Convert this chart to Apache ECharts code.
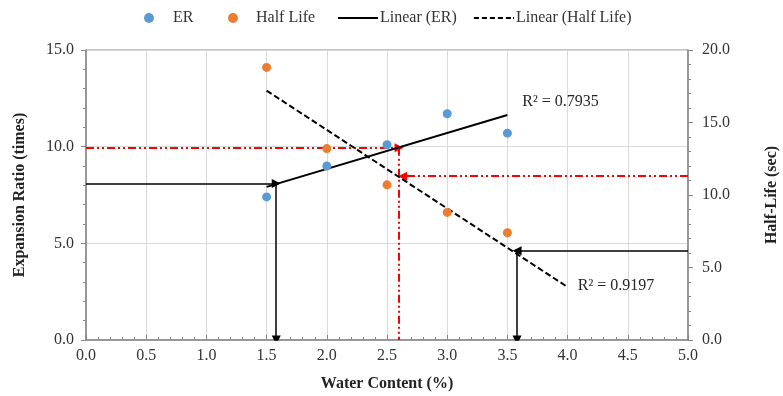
<!DOCTYPE html>
<html><head><meta charset="utf-8">
<script src="https://cdn.jsdelivr.net/npm/echarts@6/dist/echarts.min.js"></script>
<style>html,body{margin:0;padding:0;background:#fff}#c{width:783px;height:396px}</style>
</head><body><div id="c"></div>
<script>
// ---- data ----
const waterContent = [1.5, 2.0, 2.5, 3.0, 3.5];
const erValues = [7.4, 9.0, 10.1, 11.7, 10.7];
const halfLifeValues = [18.8, 13.2, 10.7, 8.8, 7.4];
const erTrendX = [1.5, 3.5];
const erTrendY = [7.92, 11.64];
const hlTrendX = [1.5, 4.0];
const hlTrendY = [17.2, 3.65];
const erR2Text = 'R² = 0.7935';
const hlR2Text = 'R² = 0.9197';
const erR2Pos = [3.62, 12.3];
const hlR2Pos = [4.08, 3.75];
// guide lines (start x, start y, end x, end y)
const redErGuideH = [0, 9.95, 2.6, 9.95];
const redErGuideV = [2.6, 9.95, 2.6, 0];
const redHlGuideH = [5.0, 11.3, 2.63, 11.3];
const blackErGuideH = [0, 8.1, 1.58, 8.1];
const blackErGuideV = [1.58, 8.1, 1.58, 0];
const blackHlGuideH = [5.0, 6.15, 3.58, 6.15];
const blackHlGuideV = [3.58, 6.15, 3.58, 0];
const xTicks = {min: 0, max: 5, interval: 0.5};
const yLeftTicks = {min: 0, max: 15, interval: 5};
const yRightTicks = {min: 0, max: 20, interval: 5};

const FONT = 'Liberation Serif';
const BLUE = '#5B9BD5', ORANGE = '#ED7D31', RED = '#FF0000';
const AX = '#868686';

function pairs(xs, ys) { return xs.map((x, i) => [x, ys[i]]); }
function seg(a) { return [[a[0], a[1]], [a[2], a[3]]]; }
function guide(a, yIdx, color, width, type, arrow) {
  return {
    type: 'lines', coordinateSystem: 'cartesian2d', xAxisIndex: 0, yAxisIndex: yIdx,
    polyline: false, silent: true, z: 5,
    symbol: ['none', arrow ? 'triangle' : 'none'], symbolSize: 9,
    lineStyle: {color: color, width: width, type: type, opacity: 1, curveness: 0},
    data: [{coords: seg(a)}]
  };
}
function textMark(pos, text, yIdx) {
  return {type: 'scatter', yAxisIndex: yIdx, symbolSize: 1, silent: true, z: 8,
    itemStyle: {color: 'rgba(0,0,0,0)', opacity: 1},
    label: {show: true, position: 'right', distance: 0, formatter: text, fontFamily: FONT, fontSize: 16, color: '#262626', opacity: 1},
    data: [pos]};
}
const dashDotDot = [8, 3, 2, 3, 2, 3];
const solidIcon = 'path://M0,0H40V2H0Z';
const dashedIcon = 'path://M0,0h5v2h-5zM8,0h5v2h-5zM16,0h5v2h-5zM24,0h5v2h-5zM32,0h5v2h-5zM39,0h1v2h-1z';

const chart = echarts.init(document.getElementById('c'));
const axisCommon = {
  axisLine: {show: true, lineStyle: {color: AX, width: 1.5}},
  axisTick: {show: true, lineStyle: {color: AX}, length: 5},
  minorTick: {show: true, splitNumber: 5, length: 3, lineStyle: {color: AX}},
  axisLabel: {fontFamily: FONT, fontSize: 16, color: '#333', formatter: v => v.toFixed(1)},
  nameTextStyle: {fontFamily: FONT, fontSize: 16, fontWeight: 'bold', color: '#222'}
};
const legText = {fontFamily: FONT, fontSize: 16, color: '#333'};
chart.setOption({
  animation: false,
  textStyle: {fontFamily: FONT},
  grid: {left: 86, right: 95, top: 50, bottom: 56, containLabel: false, outerBoundsMode: 'none',
         show: true, borderColor: AX, borderWidth: 1},
  legend: [
    {data: ['ER'], left: 139, top: 5, itemWidth: 10, itemHeight: 10, textStyle: Object.assign({padding: [0, 0, 0, 14]}, legText)},
    {data: ['Half Life'], left: 223, top: 5, itemWidth: 10, itemHeight: 10, textStyle: Object.assign({padding: [0, 0, 0, 13]}, legText)},
    {data: [{name: 'Linear (ER)', icon: solidIcon}], left: 333, top: 5, itemWidth: 40, itemHeight: 2, textStyle: Object.assign({padding: [0, 0, 0, -3]}, legText)},
    {data: [{name: 'Linear (Half Life)', icon: dashedIcon}], left: 469, top: 5, itemWidth: 40, itemHeight: 2, textStyle: Object.assign({padding: [0, 0, 0, -3]}, legText)}
  ],
  xAxis: Object.assign({}, axisCommon, {
    type: 'value', min: xTicks.min, max: xTicks.max, interval: xTicks.interval,
    name: 'Water Content (%)', nameLocation: 'middle', nameGap: 36,
    axisTick: {show: true, inside: true, length: 5, lineStyle: {color: AX}},
    axisLabel: Object.assign({}, axisCommon.axisLabel, {margin: 8}),
    splitLine: {show: true, lineStyle: {color: '#d9d9d9'}}
  }),
  yAxis: [
    Object.assign({}, axisCommon, {
      type: 'value', min: yLeftTicks.min, max: yLeftTicks.max, interval: yLeftTicks.interval,
      name: 'Expansion Ratio (times)', nameLocation: 'middle', nameGap: 58, nameRotate: 90,
      axisLabel: Object.assign({}, axisCommon.axisLabel, {margin: 12}),
      splitLine: {show: true, lineStyle: {color: '#d9d9d9'}}
    }),
    Object.assign({}, axisCommon, {
      type: 'value', position: 'right', min: yRightTicks.min, max: yRightTicks.max, interval: yRightTicks.interval,
      name: 'Half-Life (sec)', nameLocation: 'middle', nameGap: 76, nameRotate: 90,
      axisLabel: Object.assign({}, axisCommon.axisLabel, {margin: 14}),
      splitLine: {show: false}
    })
  ],
  series: [
    guide(redErGuideH, 0, RED, 2, dashDotDot, true),
    guide(redErGuideV, 0, RED, 2, dashDotDot, false),
    guide(redHlGuideH, 1, RED, 2, dashDotDot, true),
    guide(blackErGuideH, 0, '#000', 1.5, 'solid', true),
    guide(blackErGuideV, 0, '#000', 1.5, 'solid', true),
    guide(blackHlGuideH, 1, '#000', 1.5, 'solid', true),
    guide(blackHlGuideV, 1, '#000', 1.5, 'solid', true),
    {name: 'Linear (ER)', type: 'line', yAxisIndex: 0, symbol: 'none', z: 6,
     lineStyle: {color: '#000', width: 2}, itemStyle: {color: '#000'},
     data: pairs(erTrendX, erTrendY)},
    {name: 'Linear (Half Life)', type: 'line', yAxisIndex: 1, symbol: 'none', z: 6,
     lineStyle: {color: '#000', width: 2, type: [6, 3]}, itemStyle: {color: '#000'},
     data: pairs(hlTrendX, hlTrendY)},
    textMark(erR2Pos, erR2Text, 0),
    textMark(hlR2Pos, hlR2Text, 1),
    {name: 'ER', type: 'scatter', yAxisIndex: 0, symbol: 'circle', symbolSize: 9, z: 7,
     itemStyle: {color: BLUE, opacity: 1}, data: pairs(waterContent, erValues)},
    {name: 'Half Life', type: 'scatter', yAxisIndex: 1, symbol: 'circle', symbolSize: 9, z: 7,
     itemStyle: {color: ORANGE, opacity: 1}, data: pairs(waterContent, halfLifeValues)}
  ]
});
</script></body></html>
